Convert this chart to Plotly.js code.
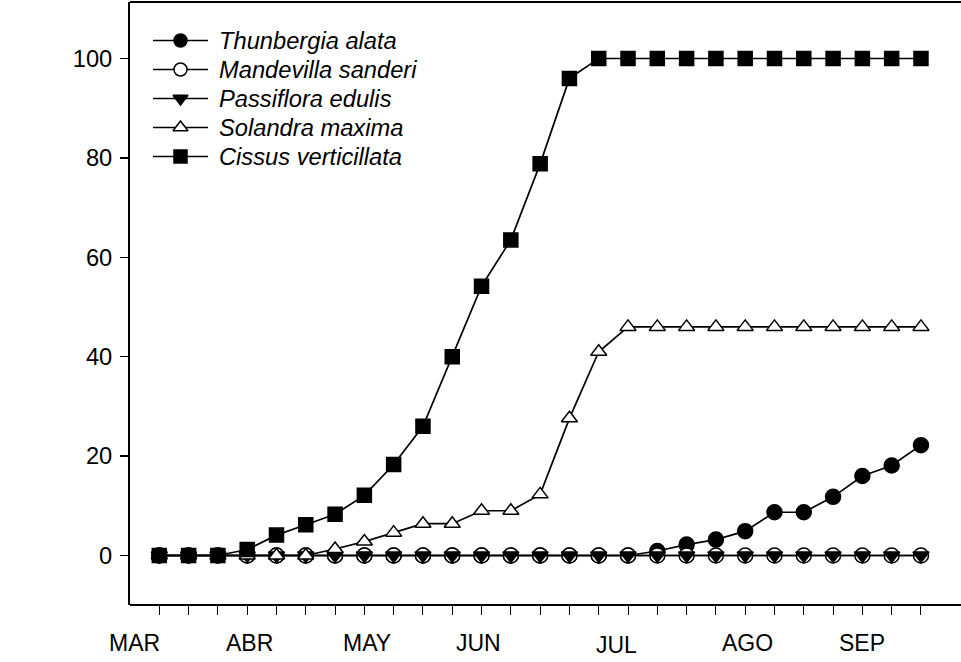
<!DOCTYPE html>
<html><head><meta charset="utf-8">
<script src="https://cdn.plot.ly/plotly-3.0.1.min.js"></script>
<style>html,body{margin:0;padding:0;background:#fff;overflow:hidden}#chart{width:961px;height:662px}</style>
</head><body><div id="chart"></div><script>
// sampling dates (index of each census)
const samplePoints = [0,1,2,3,4,5,6,7,8,9,10,11,12,13,14,15,16,17,18,19,20,21,22,23,24,25,26];
const seriesNames = ["Thunbergia alata","Mandevilla sanderi","Passiflora edulis","Solandra maxima","Cissus verticillata"];
const thunbergia = [0,0,0,0,0,0,0,0,0,0,0,0,0,0,0,0,0,0.9,2.2,3.2,4.9,8.7,8.7,11.8,16.0,18.1,22.2];
const mandevilla = [0,0,0,0,0,0,0,0,0,0,0,0,0,0,0,0,0,0,0,0,0,0,0,0,0,0,0];
const passiflora = [0,0,0,0,0,0,0,0,0,0,0,0,0,0,0,0,0,0,0,0,0,0,0,0,0,0,0];
const solandra = [0,0,0,0,0,0,1.3,2.8,4.6,6.4,6.4,9.0,9.0,12.3,27.6,41.0,46,46,46,46,46,46,46,46,46,46,46];
const cissus = [0,0,0,1.2,4.1,6.2,8.3,12.1,18.3,26.0,40.0,54.2,63.5,78.8,96.0,100,100,100,100,100,100,100,100,100,100,100,100];
const yTicks = [0,20,40,60,80,100];
const monthLabels = ["MAR","ABR","MAY","JUN","JUL","AGO","SEP"];
const monthAt = [-0.85,3.09,7.08,10.91,15.59,20.08,23.99];

const styles = [
  {symbol:"circle", size:15, lsize:13, color:"#000"},
  {symbol:"circle", size:15, lsize:13, color:"#fff"},
  {symbol:"triangle-down", size:14, lsize:13, color:"#000"},
  {symbol:"triangle-up", size:14, lsize:13, color:"#fff"},
  {symbol:"square", size:14, lsize:13, color:"#000"}
];
const allSeries = [thunbergia, mandevilla, passiflora, solandra, cissus];
const traces = allSeries.map((ys, i) => ({
  x: samplePoints, y: ys, name: seriesNames[i], type: "scatter", mode: "lines+markers",
  showlegend: false,
  line: {color: "#000", width: 1.7},
  marker: {symbol: styles[i].symbol, size: styles[i].size, color: styles[i].color,
           line: {color: "#000", width: 1.5}},
  cliponaxis: false
}));

// legend drawn on a hidden overlay axis measured in pixels of the page
const legendRows = [40.5, 69.5, 98.5, 127.5, 156.5];
const legLine = [153, 208], legMark = 180.5, legText = 217;
const legendTraces = [];
seriesNames.forEach((n, i) => {
  legendTraces.push({x: legLine, y: [legendRows[i], legendRows[i]], xaxis: "x2", yaxis: "y2",
    mode: "lines", line: {color: "#000", width: 1.7}, showlegend: false, hoverinfo: "skip", name: n});
  legendTraces.push({x: [legMark], y: [legendRows[i]], xaxis: "x2", yaxis: "y2",
    mode: "markers", marker: {symbol: styles[i].symbol, size: styles[i].lsize, color: styles[i].color,
    line: {color: "#000", width: 1.5}}, showlegend: false, hoverinfo: "skip", name: n});
});

const FONT = "Arial, 'Liberation Sans', sans-serif";
const legendAnn = seriesNames.map((n, i) => ({
  text: n, x: legText, y: legendRows[i], xref: "x2", yref: "y2",
  xanchor: "left", yanchor: "middle", showarrow: false,
  font: {family: FONT, size: 23.7, style: "italic", color: "#000"}
}));
const monthAnn = monthLabels.map((m, i) => ({
  text: m, x: monthAt[i], xref: "x", y: 0, yref: "paper",
  yanchor: "middle", xanchor: "center", yshift: m === "JUL" ? -40 : -38,
  showarrow: false, font: {family: FONT, size: 23, color: "#000"}
}));

const layout = {
  width: 961, height: 662,
  margin: {l: 130, r: 4, t: 2, b: 57},
  paper_bgcolor: "#fff", plot_bgcolor: "#fff",
  font: {family: FONT, size: 23, color: "#000"},
  showlegend: false,
  xaxis: {range: [-1, 27.23], tickmode: "array", tickvals: samplePoints, showticklabels: false,
          ticks: "outside", ticklen: 9, tickwidth: 1, tickcolor: "#000",
          showline: false, showgrid: false, zeroline: false, fixedrange: true},
  yaxis: {range: [-9.96, 111.37], tickmode: "array", tickvals: yTicks,
          ticks: "outside", ticklen: 8, tickwidth: 1.5, tickcolor: "#000",
          ticklabelstandoff: 3,
          tickfont: {family: FONT, size: 23.7, color: "#000"},
          showline: true, linecolor: "#000", linewidth: 2,
          showgrid: false, zeroline: false, fixedrange: true},
  xaxis2: {overlaying: "x", range: [130, 957], visible: false, fixedrange: true},
  yaxis2: {overlaying: "y", range: [605, 2], visible: false, fixedrange: true},
  shapes: [
    {type: "line", xref: "paper", yref: "paper", x0: 0, x1: 1.006, y0: 1, y1: 1, line: {color: "#000", width: 2}},
    {type: "line", xref: "paper", yref: "paper", x0: 0, x1: 1.006, y0: 0, y1: 0, line: {color: "#000", width: 2}}
  ],
  annotations: monthAnn.concat(legendAnn)
};
Plotly.newPlot("chart", traces.concat(legendTraces), layout, {displayModeBar: false, staticPlot: true});
</script></body></html>
